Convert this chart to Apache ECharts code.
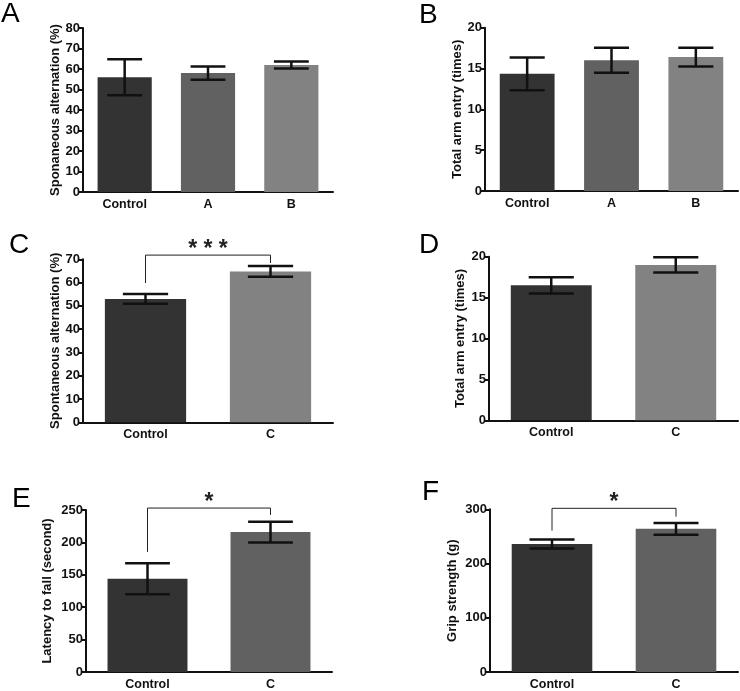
<!DOCTYPE html>
<html>
<head>
<meta charset="utf-8">
<script src="https://cdn.jsdelivr.net/npm/echarts@6/dist/echarts.min.js"></script>
<style>
html,body{margin:0;padding:0;background:#fff;}
#chart{width:740px;height:691px;}
</style>
</head>
<body>
<div id="chart"></div>
<script>
// ---- data ----
const catsAB = ['Control', 'A', 'B'];
const catsC = ['Control', 'C'];

const meanA = [56, 58, 62];
const errA = [8.8, 3.2, 1.7];

const meanB = [14.35, 16.0, 16.4];
const errB = [2.0, 1.53, 1.15];

const meanC = [53, 64.8];
const errC = [2.1, 2.3];

const meanD = [16.5, 19.0];
const errD = [1.0, 0.93];

const meanE = [144, 216];
const errE = [24, 16];

const meanF = [236, 264];
const errF = [8.5, 10.7];

// significance brackets: [leftCat, rightCat, bracketY, leftDropY, rightDropY]
const sigC = [0, 1, 71.8, 59.8, 68.4];
const sigE = [0, 1, 253, 185.4, 242.4];
const sigF = [0, 1, 301.8, 260.7, 286.4];

// y axis ranges
const yAxisA = {min: 0, max: 80, interval: 10};
const yAxisB = {min: 0, max: 20, interval: 5};
const yAxisC = {min: 0, max: 70, interval: 10};
const yAxisD = {min: 0, max: 20, interval: 5};
const yAxisE = {min: 0, max: 250, interval: 50};
const yAxisF = {min: 0, max: 300, interval: 100};

// ---- styling ----
const FONT = '"Liberation Sans", Arial, sans-serif';
const DARK = '#333333', MID = '#616161', LIGHT = '#828282';

const panels = [
  {cats: catsAB, mean: meanA, err: errA, y: yAxisA, colors: [DARK, MID, LIGHT],
   grid: {left: 83, top: 28, width: 250, height: 164}, name: 'Sponaneous alternation (%)', gap: 21},
  {cats: catsAB, mean: meanB, err: errB, y: yAxisB, colors: [DARK, MID, LIGHT],
   grid: {left: 485, top: 27.7, width: 253, height: 163.3}, name: 'Total arm entry (times)', gap: 20},
  {cats: catsC, mean: meanC, err: errC, y: yAxisC, colors: [DARK, LIGHT],
   grid: {left: 83, top: 259.3, width: 250, height: 163}, name: 'Spontaneous alternation (%)', gap: 21, sig: sigC, stars: '* * *'},
  {cats: catsC, mean: meanD, err: errD, y: yAxisD, colors: [DARK, LIGHT],
   grid: {left: 489, top: 256.7, width: 249, height: 163.6}, name: 'Total arm entry (times)', gap: 22},
  {cats: catsC, mean: meanE, err: errE, y: yAxisE, colors: [DARK, MID],
   grid: {left: 86, top: 510, width: 246, height: 162.3}, name: 'Latency to fall (second)', gap: 32, sig: sigE, stars: '*'},
  {cats: catsC, mean: meanF, err: errF, y: yAxisF, colors: [DARK, MID],
   grid: {left: 490, top: 509.3, width: 248, height: 163.4}, name: 'Grip strength (g)', gap: 31, sig: sigF, stars: '*'}
];

const grids = [], xAxes = [], yAxes = [], series = [];

panels.forEach((p, i) => {
  grids.push(Object.assign({containLabel: false}, p.grid));
  xAxes.push({
    type: 'category', gridIndex: i, data: p.cats,
    axisLine: {lineStyle: {color: '#111', width: 2}},
    axisTick: {alignWithLabel: true, length: 5, lineStyle: {color: '#111', width: 2}},
    axisLabel: {color: '#111', fontFamily: FONT, fontWeight: 'bold', fontSize: 12.5, margin: 6}
  });
  yAxes.push({
    type: 'value', gridIndex: i, min: p.y.min, max: p.y.max, interval: p.y.interval,
    name: p.name, nameLocation: 'middle', nameGap: p.gap, nameRotate: 90,
    nameTextStyle: {color: '#111', fontFamily: FONT, fontWeight: 'bold', fontSize: 13},
    splitLine: {show: false},
    axisLine: {show: true, lineStyle: {color: '#111', width: 2}},
    axisTick: {show: true, length: 4, lineStyle: {color: '#111', width: 2}},
    axisLabel: {color: '#111', fontFamily: FONT, fontWeight: 'bold', fontSize: 13, margin: 3}
  });
  series.push({
    type: 'bar', xAxisIndex: i, yAxisIndex: i, barWidth: '65%', z: 2,
    data: p.mean.map((m, k) => ({value: m, itemStyle: {color: p.colors[k]}})),
    silent: true, animation: false
  });
  series.push({
    type: 'custom', xAxisIndex: i, yAxisIndex: i, clip: false, animation: false, silent: true, z: 5,
    data: p.mean.map((m, k) => [k, m - p.err[k], m + p.err[k]]),
    encode: {x: 0, y: [1, 2]},
    renderItem: function (params, api) {
      const x = api.value(0);
      const pHi = api.coord([x, api.value(2)]);
      const pLo = api.coord([x, api.value(1)]);
      const catW = api.size([1, 0])[0];
      const half = (catW * 0.25 + 14) / 2;
      const st = {stroke: '#111', lineWidth: 2.5};
      return {type: 'group', children: [
        {type: 'line', shape: {x1: pHi[0], y1: pHi[1], x2: pLo[0], y2: pLo[1]}, style: st},
        {type: 'line', shape: {x1: pHi[0] - half, y1: pHi[1], x2: pHi[0] + half, y2: pHi[1]}, style: st},
        {type: 'line', shape: {x1: pLo[0] - half, y1: pLo[1], x2: pLo[0] + half, y2: pLo[1]}, style: st}
      ]};
    }
  });
  if (p.sig) {
    const stars = p.stars;
    series.push({
      type: 'custom', xAxisIndex: i, yAxisIndex: i, clip: false, animation: false, silent: true, z: 5,
      data: [p.sig],
      encode: {x: [0, 1], y: [2, 3, 4]},
      renderItem: function (params, api) {
        const top = api.coord([api.value(0), api.value(2)]);
        const topR = api.coord([api.value(1), api.value(2)]);
        const l = api.coord([api.value(0), api.value(3)]);
        const r = api.coord([api.value(1), api.value(4)]);
        return {type: 'group', children: [
          {type: 'polyline', shape: {points: [[l[0], l[1]], [top[0], top[1]], [topR[0], topR[1]], [r[0], r[1]]]},
           style: {stroke: '#222', lineWidth: 1, fill: null}},
          {type: 'text', x: (top[0] + topR[0]) / 2, y: top[1] + 6,
           style: {text: stars, textAlign: 'center', textVerticalAlign: 'bottom',
                   font: 'bold 23px ' + FONT, fill: '#222'}}
        ]};
      }
    });
  }
});

const letterStyle = (t) => ({text: t, font: 'normal 28px ' + FONT, fill: '#000', textVerticalAlign: 'top'});
const graphic = [
  {type: 'text', left: 1, top: 0, style: letterStyle('A')},
  {type: 'text', left: 419, top: 1, style: letterStyle('B')},
  {type: 'text', left: 9, top: 231, style: letterStyle('C')},
  {type: 'text', left: 419, top: 231, style: letterStyle('D')},
  {type: 'text', left: 12, top: 485, style: letterStyle('E')},
  {type: 'text', left: 422, top: 478, style: letterStyle('F')}
];

const chart = echarts.init(document.getElementById('chart'), null, {renderer: 'canvas'});
chart.setOption({
  animation: false,
  backgroundColor: '#fff',
  grid: grids, xAxis: xAxes, yAxis: yAxes, series: series, graphic: graphic
});
</script>
</body>
</html>
